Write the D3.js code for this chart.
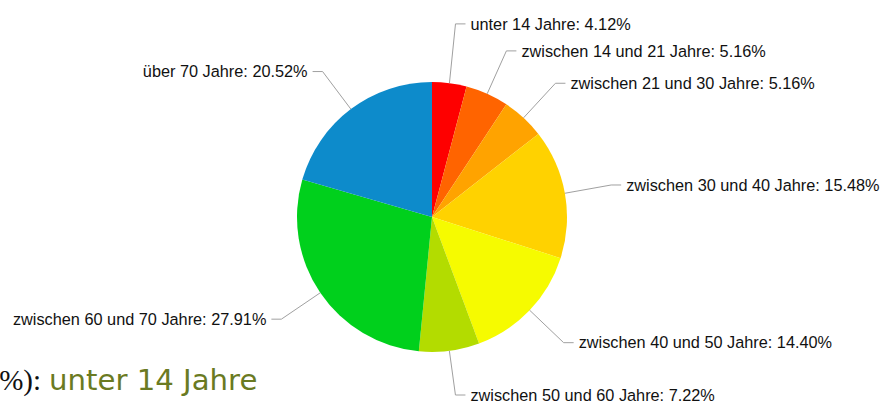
<!DOCTYPE html>
<html>
<head>
<meta charset="utf-8">
<script src="https://cdn.jsdelivr.net/npm/d3@7"></script>
<style>
  html, body { margin: 0; padding: 0; background: #fff; overflow: hidden; }
  svg { display: block; }
</style>
</head>
<body>
<svg id="chart" width="884" height="404"></svg>
<script>
const categories = [
  "unter 14 Jahre",
  "zwischen 14 und 21 Jahre",
  "zwischen 21 und 30 Jahre",
  "zwischen 30 und 40 Jahre",
  "zwischen 40 und 50 Jahre",
  "zwischen 50 und 60 Jahre",
  "zwischen 60 und 70 Jahre",
  "über 70 Jahre"
];
const values = [4.12, 5.16, 5.16, 15.48, 14.40, 7.22, 27.91, 20.52];
const colors = ["#fe0000", "#ff6400", "#ffa300", "#ffd200", "#f6fb00", "#b3dc00", "#00d01c", "#0d8bcb"];
const footerPrefix = "Anteil (%):";
const footerText = "unter 14 Jahre";

const W = 884, H = 404;
const svg = d3.select("#chart");
const cx = 432, cy = 217, r = 135, R = 182, gap = 27;

const pie = d3.pie().sort(null).value(d => d);
const arcs = pie(values);
const arc = d3.arc().innerRadius(0).outerRadius(r);

const g = svg.append("g").attr("transform", `translate(${cx},${cy})`);
g.selectAll("path.slice").data(arcs).join("path")
  .attr("class", "slice")
  .attr("d", arc)
  .attr("fill", (d, i) => colors[i]);

// label anchors
const labels = arcs.map((d, i) => {
  const a = (d.startAngle + d.endAngle) / 2;
  return {
    i, a,
    ex: Math.sin(a) * r, ey: -Math.cos(a) * r,
    ax: Math.sin(a) * R, ay: Math.min(-Math.cos(a) * R, H - cy - 9),
    right: Math.sin(a) >= 0
  };
});
[true, false].forEach(side => {
  const s = labels.filter(l => l.right === side).sort((a, b) => a.ay - b.ay);
  for (let k = s.length - 2; k >= 0; k--) {
    if (s[k].ay > s[k + 1].ay - gap) s[k].ay = s[k + 1].ay - gap;
  }
});

const lg = g.append("g");
lg.selectAll("path.conn").data(labels).join("path")
  .attr("class", "conn")
  .attr("fill", "none")
  .attr("stroke", "#a0a0a0")
  .attr("stroke-width", 1)
  .attr("d", l => {
    const dir = l.right ? 1 : -1;
    return `M${l.ex},${l.ey}L${l.ax},${l.ay}L${l.ax + dir * 10},${l.ay}`;
  });
lg.selectAll("text.lbl").data(labels).join("text")
  .attr("class", "lbl")
  .attr("x", l => l.ax + (l.right ? 15 : -15))
  .attr("y", l => l.ay)
  .attr("dy", "0.35em")
  .attr("text-anchor", l => l.right ? "start" : "end")
  .attr("font-family", "'Liberation Sans', Arial, sans-serif")
  .attr("font-size", 16.3)
  .attr("fill", "#111")
  .text(l => `${categories[l.i]}: ${values[l.i].toFixed(2)}%`);

// footer text fragment
svg.append("text")
  .attr("x", 41).attr("y", 390)
  .attr("text-anchor", "end")
  .attr("font-family", "'Liberation Serif', 'Times New Roman', serif")
  .attr("font-size", 29)
  .attr("fill", "#111")
  .text(footerPrefix);
svg.append("text")
  .attr("x", 49).attr("y", 390)
  .attr("font-family", "'DejaVu Sans', Verdana, sans-serif")
  .attr("font-size", 29.2)
  .attr("fill", "#6a7a22")
  .text(footerText);
</script>
</body>
</html>
